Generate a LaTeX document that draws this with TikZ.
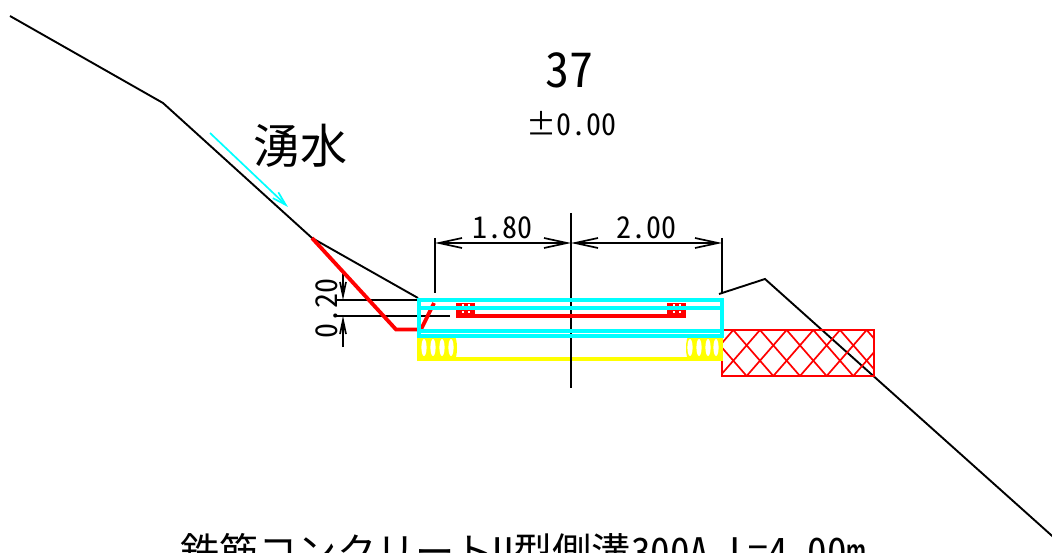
\documentclass[tikz,border=0pt]{standalone}
\usepackage{fontspec}
\usepackage{xcolor}
\usetikzlibrary{arrows.meta}
\setmainfont{Noto Sans CJK JP}[RawFeature=+hwid]
\definecolor{channelColor}{RGB}{0, 255, 255}
\definecolor{steelColor}{RGB}{255, 0, 0}
\definecolor{baseColor}{RGB}{255, 255, 0}
\tikzset{
    ground/.style={black, line width=1.9pt},
    dimline/.style={black, line width=1.7pt},
    dimarrow/.style={dimline, {Straight Barb[length=23pt,width=10pt]}-{Straight Barb[length=23pt,width=10pt]}},
    channel/.style={channelColor, line width=3.3pt},
    steel/.style={steelColor, line width=3.8pt},
    label/.style={inner sep=0pt, black}
}
\begin{document}
\begin{tikzpicture}[x=1pt,y=-1pt]
    \useasboundingbox (0,0) rectangle (1052,553);
    \clip (0,0) rectangle (1052,553);

    % Title text
    \node[label, font=\fontsize{48}{52}\selectfont] (stationText) at (569,70) {37};
    \node[label, font=\fontsize{30}{34}\selectfont] (levelText) at (571,124) {±0.00};
    \node[label, font=\fontsize{47}{52}\selectfont] (springText) at (300,146) {湧水};
    \node[label, font=\fontsize{39.2}{44}\selectfont, anchor=west] (channelText) at (180,552) {鉄筋コンクリートU型側溝300A L=4.00m};

    % Ground line
    \draw[ground] (10,16) -- (163,103) -- (312,238) -- (418,298);
    \draw[ground] (719,294) -- (765,279) -- (1060,543);

    % Water arrow
    \draw[channelColor, line width=1.7pt, -{Straight Barb[length=14pt,width=8pt]}] (210,133) -- (288,207);

    % Hatched block
    \begin{scope}
        \clip (722,330) rectangle (874,376);
        \foreach \i in {-3,...,8} {
            \draw[steelColor, line width=1.7pt] ({733.3+26.67*\i},330) -- ++(40,46);
            \draw[steelColor, line width=1.7pt] ({733.3+26.67*\i},330) -- ++(-40,46);
        }
    \end{scope}
    \draw[steelColor, line width=2pt] (722,330) rectangle (874,376);

    % Yellow base
    \draw[baseColor, line width=3.4pt] (419,337) -- (419,359) -- (721,359) -- (721,337);
    \fill[baseColor] (420,336) rectangle (454,360);
    \fill[baseColor] (454,348) ellipse (3 and 12);
    \fill[baseColor] (689,336) rectangle (721,360);
    \fill[baseColor] (689,348) ellipse (3 and 12);
    \foreach \x in {424,433,442,451,690,699,708,716} {
        \fill[white] (\x,347.5) ellipse (2.6 and 8.5);
    }

    % Dimensions
    \draw[dimline] (435,238) -- (435,293);
    \draw[dimline] (571,213) -- (571,388);
    \draw[dimline] (722,238) -- (722,293);
    \draw[dimarrow] (435,243) -- (571,243);
    \draw[dimarrow] (571,243) -- (722,243);
    \node[label, font=\fontsize{30}{34}\selectfont] (leftWidth) at (502,228) {1.80};
    \node[label, font=\fontsize{30}{34}\selectfont] (rightWidth) at (646,228) {2.00};

    \draw[dimline] (335,300) -- (418,300);
    \draw[dimline] (335,316) -- (450,316);
    \draw[dimline, -{Straight Barb[length=14pt,width=6pt]}] (343,273) -- (343,300);
    \draw[dimline, -{Straight Barb[length=14pt,width=6pt]}] (343,347) -- (343,316);
    \node[label, rotate=90, font=\fontsize{30}{34}\selectfont] (slopeHeight) at (327,308) {0.20};

    % Red bar
    \draw[steel] (312,238) -- (396,329.5) -- (421,329.5) -- (434,303);
    \draw[steel] (456,316) -- (686,316);
    \foreach \x in {456,667} {
        \fill[steelColor] (\x,303) rectangle ++(19,15);
        \foreach \dx in {6,12} \foreach \dy in {1,8}
            \fill[white] ({\x+\dx},{303+\dy}) rectangle ++(2,2);
    }

    % Concrete channel
    \draw[channel] (419,300) rectangle (722,336);
    \draw[channel] (419,308) -- (722,308);
    \draw[channel] (419,331) -- (722,331);
\end{tikzpicture}
\end{document}
